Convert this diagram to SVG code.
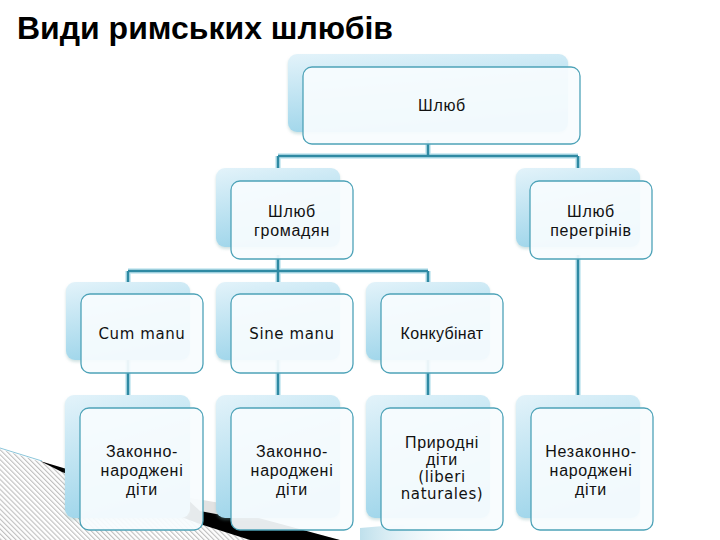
<svg xmlns="http://www.w3.org/2000/svg" width="720" height="540" viewBox="0 0 720 540">
<defs>
<style>
.title{font-family:"Liberation Sans",Arial,sans-serif;font-weight:bold;font-size:31px;fill:#000}
.t{font-family:"Liberation Sans",Arial,sans-serif;font-size:16px;fill:#111;text-anchor:middle;letter-spacing:0.7px}
.l{font-family:"DejaVu Sans",Verdana,sans-serif;font-size:15px;fill:#111;text-anchor:middle;letter-spacing:0.6px}
.back{fill:url(#bg);filter:url(#sh)}
.front{fill:#f7fcfe;fill-opacity:0.93;stroke:#4ea3b8;stroke-width:1.3}
.c1{fill:none;stroke:#c4e6f0;stroke-width:5.5}
.c2{fill:none;stroke:#2f8aa3;stroke-width:2.5}
</style>
<linearGradient id="bg" x1="0" y1="0" x2="0.3" y2="1">
<stop offset="0" stop-color="#e3f3fa"/>
<stop offset="1" stop-color="#9ed5ea"/>
</linearGradient>
<filter id="sh" x="-10%" y="-10%" width="120%" height="130%">
<feDropShadow dx="0" dy="2" stdDeviation="1.5" flood-color="#7aa" flood-opacity="0.35"/>
</filter>
<pattern id="hatch" width="3.5" height="3.5" patternUnits="userSpaceOnUse" patternTransform="rotate(-45)">
<rect width="3.5" height="3.5" fill="#ffffff"/>
<line x1="0.6" y1="0" x2="0.6" y2="3.5" stroke="#b8b8b8" stroke-width="1"/>
</pattern>
<linearGradient id="wedge" x1="0" y1="0" x2="1" y2="0">
<stop offset="0" stop-color="#bfe0ec"/>
<stop offset="1" stop-color="#ffffff" stop-opacity="0"/>
</linearGradient>
</defs>
<rect width="720" height="540" fill="#ffffff"/>
<g id="decor">
<polygon points="0,449 60,468 200,504 340,540 0,540" fill="url(#hatch)"/>
<line x1="0" y1="448" x2="42" y2="461" stroke="#8cc6da" stroke-width="1"/>
<polygon points="40,461 70,470 200,502 340,540 250,540 200,524 62,472" fill="#000"/>
<polygon points="185,497 232,505 232,517 200,511" fill="#e2e2e2"/>
<polygon points="360,528 430,522 480,540 360,540" fill="url(#wedge)"/>
</g>
<text class="title" x="17" y="39" textLength="376" lengthAdjust="spacingAndGlyphs">Види римських шлюбів</text>
<g id="connectors">
<path class="c1" d="M428,140 V156 M278,156 H578 M278,156 V170 M578,156 V170"/>
<path class="c2" d="M428,140 V156 M278,156 H578 M278,156 V170 M578,156 V170"/>
<path class="c1" d="M278,255 V271 M128,271 H428 M128,271 V284 M278,271 V284 M428,271 V284"/>
<path class="c2" d="M278,255 V271 M128,271 H428 M128,271 V284 M278,271 V284 M428,271 V284"/>
<path class="c1" d="M578,255 V397 M128,360 V397 M278,360 V397 M428,360 V397"/>
<path class="c2" d="M578,255 V397 M128,360 V397 M278,360 V397 M428,360 V397"/>
</g>
<g id="n-root">
<rect class="back" x="288" y="54" width="280" height="78" rx="9"/>
<rect class="front" x="303" y="67" width="277" height="77" rx="9"/>
<text class="t" x="442" y="111">Шлюб</text>
</g>
<g id="n-hromadian">
<rect class="back" x="216" y="168" width="124" height="79" rx="9"/>
<rect class="front" x="231" y="181" width="122" height="78" rx="9"/>
<text class="t" x="292" y="217">Шлюб</text>
<text class="t" x="292" y="236">громадян</text>
</g>
<g id="n-perehryniv">
<rect class="back" x="516" y="168" width="124" height="79" rx="9"/>
<rect class="front" x="530" y="181" width="122" height="78" rx="9"/>
<text class="t" x="591" y="217">Шлюб</text>
<text class="t" x="591" y="236">перегрінів</text>
</g>
<g id="n-cum">
<rect class="back" x="66" y="282" width="124" height="78" rx="9"/>
<rect class="front" x="81" y="294" width="122" height="79" rx="9"/>
<text class="l" x="142" y="339">Cum manu</text>
</g>
<g id="n-sine">
<rect class="back" x="216" y="282" width="124" height="78" rx="9"/>
<rect class="front" x="231" y="294" width="122" height="79" rx="9"/>
<text class="l" x="292" y="339">Sine manu</text>
</g>
<g id="n-konk">
<rect class="back" x="366" y="282" width="124" height="78" rx="9"/>
<rect class="front" x="381" y="294" width="122" height="79" rx="9"/>
<text class="t" x="442" y="339" style="letter-spacing:0.3px">Конкубінат</text>
</g>
<g id="n-zak1">
<rect class="back" x="65" y="395" width="125" height="123" rx="9"/>
<rect class="front" x="80" y="408" width="123" height="122" rx="9"/>
<text class="t" x="142" y="457">Законно-</text>
<text class="t" x="142" y="476">народжені</text>
<text class="t" x="142" y="495">діти</text>
</g>
<g id="n-zak2">
<rect class="back" x="216" y="395" width="124" height="123" rx="9"/>
<rect class="front" x="231" y="408" width="122" height="122" rx="9"/>
<text class="t" x="292" y="457">Законно-</text>
<text class="t" x="292" y="476">народжені</text>
<text class="t" x="292" y="495">діти</text>
</g>
<g id="n-pryrodni">
<rect class="back" x="366" y="395" width="124" height="123" rx="9"/>
<rect class="front" x="381" y="408" width="122" height="122" rx="9"/>
<text class="t" x="442" y="448">Природні</text>
<text class="t" x="442" y="465">діти</text>
<text class="l" x="442" y="482">(liberi</text>
<text class="l" x="442" y="499">naturales)</text>
</g>
<g id="n-nezak">
<rect class="back" x="516" y="395" width="124" height="123" rx="9"/>
<rect class="front" x="531" y="408" width="122" height="122" rx="9"/>
<text class="t" x="591" y="457">Незаконно-</text>
<text class="t" x="591" y="476">народжені</text>
<text class="t" x="591" y="495">діти</text>
</g>
</svg>
